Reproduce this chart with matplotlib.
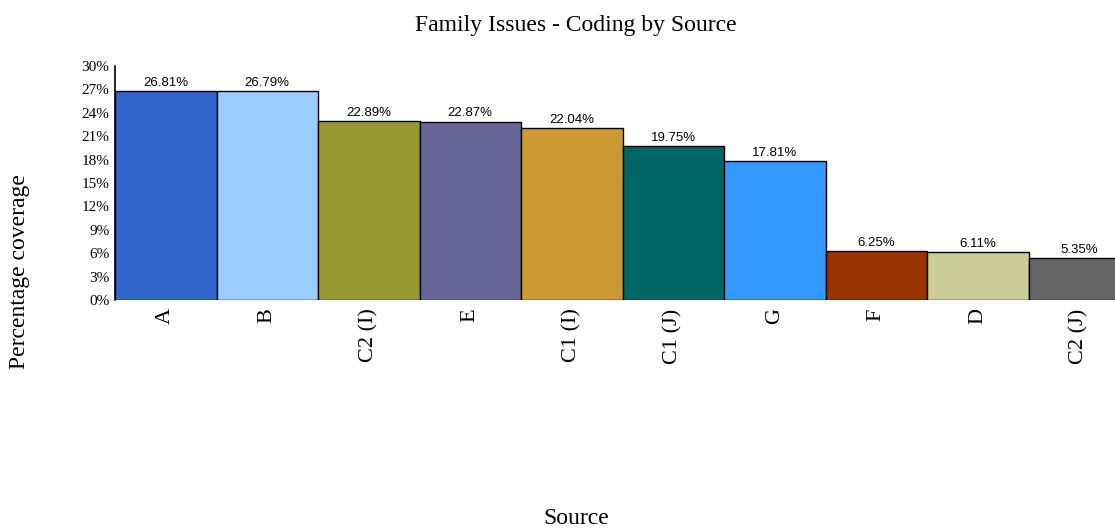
import matplotlib
matplotlib.use("Agg")
import matplotlib.pyplot as plt

sources = ["A", "B", "C2 (I)", "E", "C1 (I)", "C1 (J)", "G", "F", "D", "C2 (J)"]
coverage = [26.81, 26.79, 22.89, 22.87, 22.04, 19.75, 17.81, 6.25, 6.11, 5.35]
colors = ["#3366cc", "#99ccff", "#999933", "#666699", "#cc9933",
          "#006666", "#3399ff", "#993300", "#cccc99", "#666666"]
yticks = list(range(0, 31, 3))

fig = plt.figure(figsize=(11.15, 5.29), dpi=100)
# axes runs past the right edge, like the original
ax = fig.add_axes([115/1115, 1 - 300/529, 1015/1115, 234/529])

x = range(len(sources))
bars = ax.bar(x, coverage, width=1.0, color=colors, edgecolor="black", linewidth=1.0)
for b, v in zip(bars, coverage):
    ax.text(b.get_x() + b.get_width()/2, v + 0.3, "%.2f%%" % v,
            ha="center", va="bottom", fontsize=9.5, family="Liberation Sans")

ax.set_xlim(-0.5, len(sources) - 0.5)
ax.set_ylim(0, 30)
ax.set_yticks(yticks)
ax.set_yticklabels(["%d%%" % t for t in yticks], family="Liberation Serif", fontsize=11)
ax.set_xticks(list(x))
ax.set_xticklabels(sources, rotation=90, family="Liberation Serif", fontsize=16)
ax.tick_params(axis="both", length=0)
ax.tick_params(axis="y", pad=4)
ax.tick_params(axis="x", pad=6)
for s in ["top", "right", "bottom"]:
    ax.spines[s].set_visible(False)
ax.spines["left"].set_linewidth(1.2)

fig.text(576/1115, 1 - 25/529, "Family Issues - Coding by Source", ha="center", va="center",
         family="Liberation Serif", fontsize=17)
fig.text(20/1115, 1 - 272/529, "Percentage coverage", rotation=90, ha="center", va="center",
         family="Liberation Serif", fontsize=17)
fig.text(576/1115, 1 - 518/529, "Source", ha="center", va="center",
         family="Liberation Serif", fontsize=17)

fig.savefig("out.png", dpi=100)
